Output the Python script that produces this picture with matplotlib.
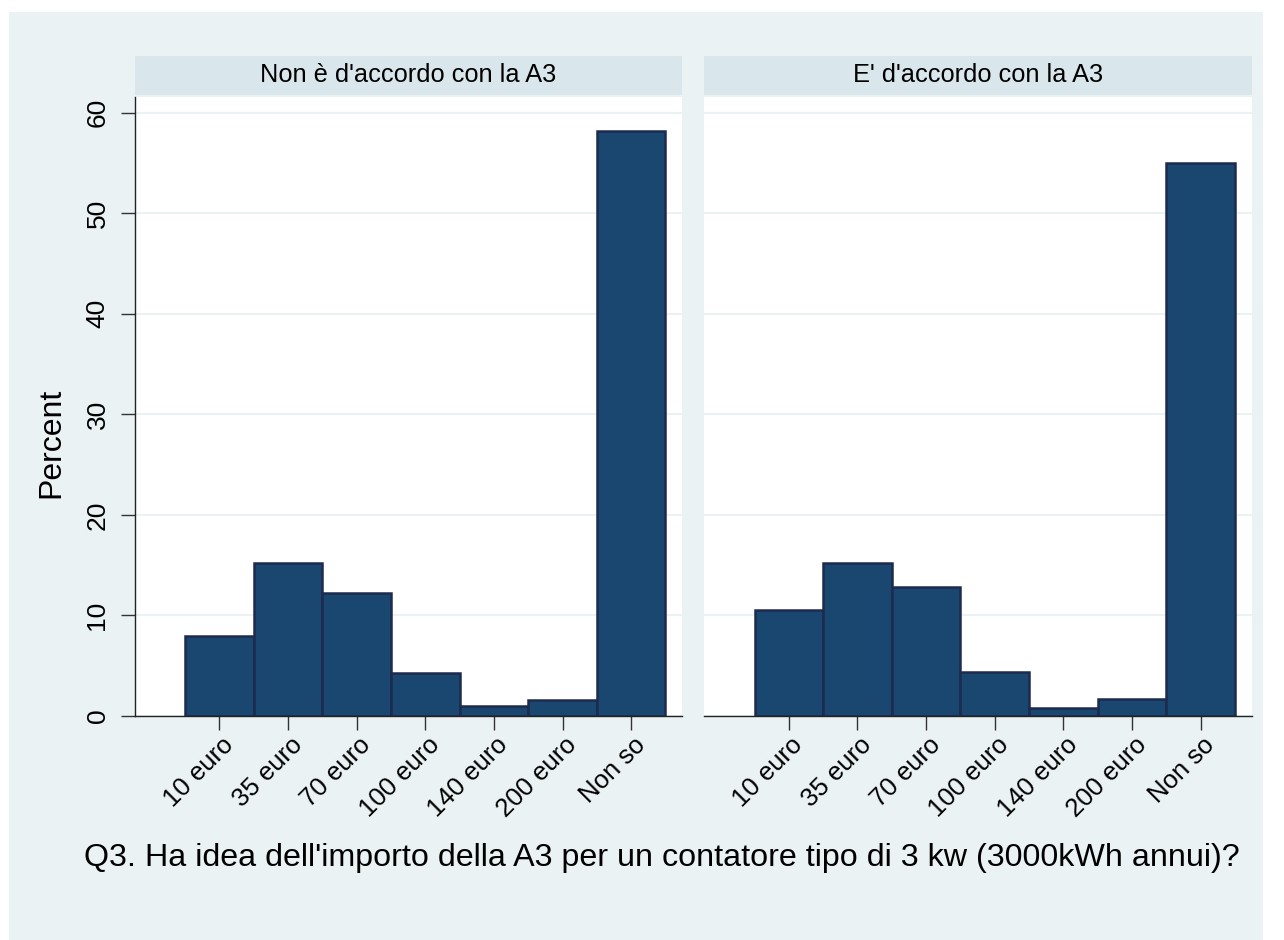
import numpy as np
import matplotlib.pyplot as plt
import matplotlib.patches as patches
import matplotlib.transforms as mtransforms

plt.rcParams['font.family'] = ['Liberation Sans', 'DejaVu Sans']

categories = ['10 euro', '35 euro', '70 euro', '100 euro', '140 euro', '200 euro', 'Non so']
panel_titles = ["Non è d'accordo con la A3", "E' d'accordo con la A3"]
pct_disagree = [8.0, 15.2, 12.2, 4.3, 0.95, 1.55, 58.2]
pct_agree = [10.5, 15.2, 12.8, 4.4, 0.8, 1.7, 55.0]
y_ticks = [0, 10, 20, 30, 40, 50, 60]

BG = '#eaf2f3'
STRIP = '#d9e6eb'
BAR = '#1a476f'
BAR_EDGE = '#1d2b4e'

W, H = 1284, 940
fig = plt.figure(figsize=(W / 100, H / 100), dpi=100, facecolor='white')

# light outer background with a thin white frame
bg = patches.Rectangle((9 / W, 0), (1263 - 9) / W, 1 - 12 / H,
                       transform=fig.transFigure, facecolor=BG,
                       edgecolor='none', zorder=-10)
fig.add_artist(bg)

x = np.arange(1, len(categories) + 1)
panel_left = [134.5, 704.0]
panel_w = 547.5
plot_top, plot_bot = 96.5, 716.0
strip_top, strip_bot = 55.7, 95.0

for i, (title, vals) in enumerate(zip(panel_titles, [pct_disagree, pct_agree])):
    ax = fig.add_axes([panel_left[i] / W, 1 - plot_bot / H,
                       panel_w / W, (plot_bot - plot_top) / H])
    ax.set_facecolor('white')
    ax.bar(x, vals, width=1.0, color=BAR, edgecolor=BAR_EDGE, linewidth=1.8, zorder=3)
    ax.set_xlim(-0.236, 7.741)
    ax.set_ylim(0, 61.6)
    ax.set_yticks(y_ticks)
    for t in y_ticks:
        ax.axhline(t, color=BG, linewidth=1.5, zorder=1)
    ax.set_xticks(x)
    ax.set_xticklabels(categories, rotation=45, ha='right', va='top',
                       rotation_mode='anchor', fontsize=18.5)
    ax.tick_params(axis='x', length=10, width=1, color='#333333', pad=2)
    shift = mtransforms.ScaledTranslation(2 / 100, 0, fig.dpi_scale_trans)
    for lab in ax.get_xticklabels():
        lab.set_transform(lab.get_transform() + shift)
    for s in ['top', 'right']:
        ax.spines[s].set_visible(False)
    ax.spines['bottom'].set_color('#222222')
    ax.spines['bottom'].set_linewidth(1.0)
    ax.spines['bottom'].set_zorder(4)
    if i == 0:
        ax.spines['left'].set_color('#222222')
        ax.spines['left'].set_linewidth(1.0)
        ax.tick_params(axis='y', length=10, width=1, color='#333333', pad=8,
                       labelsize=19)
        for lab in ax.get_yticklabels():
            lab.set_rotation(90)
            lab.set_va('center')
    else:
        ax.spines['left'].set_visible(False)
        ax.tick_params(axis='y', left=False, labelleft=False)

    sax = fig.add_axes([panel_left[i] / W, 1 - strip_bot / H,
                        panel_w / W, (strip_bot - strip_top) / H])
    sax.set_facecolor(STRIP)
    sax.set_xticks([])
    sax.set_yticks([])
    for s in sax.spines.values():
        s.set_visible(False)
    sax.text(0.5, 0.5, title, ha='center', va='center', fontsize=18.3,
             transform=sax.transAxes)

fig.text(51.7 / W, 1 - 443 / H, 'Percent', rotation=90, ha='center', va='center',
         fontsize=23)
fig.text(662 / W, 1 - 858 / H,
         "Q3. Ha idea dell'importo della A3 per un contatore tipo di 3 kw (3000kWh annui)?",
         ha='center', va='center', fontsize=23.2)

fig.savefig('out.png', dpi=100, facecolor=fig.get_facecolor())
